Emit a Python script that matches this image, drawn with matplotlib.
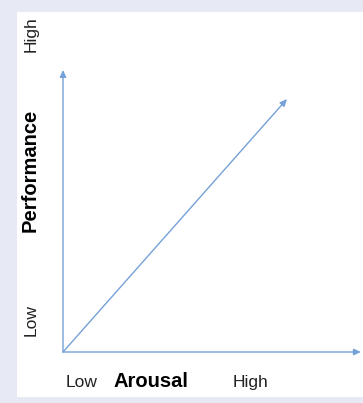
import matplotlib
matplotlib.use("Agg")
import matplotlib.pyplot as plt
from matplotlib.patches import Rectangle

# Data (normalised arousal -> performance)
arousal = [0.0, 1.0]
performance = [0.0, 1.0]
x_axis_end = 1.33
y_axis_end = 1.115
x_labels = ["Low", "Arousal", "High"]
y_labels = ["Low", "Performance", "High"]

W, H = 363, 403
fig = plt.figure(figsize=(W / 100, H / 100), dpi=100)
fig.patch.set_facecolor("#e7e9f5")
bg = fig.add_axes([0, 0, 1, 1], zorder=-10)
bg.set_xlim(0, W)
bg.set_ylim(H, 0)
bg.axis("off")
bg.add_patch(Rectangle((17, 12), W - 17, 397 - 12, facecolor="white", edgecolor="none"))

ax = fig.add_axes([63 / W, 1 - 352 / H, 224 / W, 253 / H], zorder=1)
ax.set_xlim(0, 1)
ax.set_ylim(0, 1)
ax.axis("off")
ax.patch.set_alpha(0)

col = "#75a1d8"
ap = dict(arrowstyle="-|>,head_length=0.55,head_width=0.25", color=col,
          lw=1.0, shrinkA=0, shrinkB=0, mutation_scale=7.5)
ax.annotate("", xy=(x_axis_end, 0), xytext=(0, 0), arrowprops=ap, annotation_clip=False)
ax.annotate("", xy=(0, y_axis_end), xytext=(0, 0), arrowprops=ap, annotation_clip=False)
ax.annotate("", xy=(arousal[1], performance[1]), xytext=(arousal[0], performance[0]),
            arrowprops=ap, annotation_clip=False)

fam = "Liberation Sans"
def ft(x, y, s, va="center", **kw):
    fig.text(x / W, 1 - y / H, s, family=fam, ha="center", va=va, **kw)

ft(82, 387, x_labels[0], va="baseline", fontsize=12.5, color="#222222")
ft(151, 387, x_labels[1], va="baseline", fontsize=14.5, fontweight="bold")
ft(250, 387, x_labels[2], va="baseline", fontsize=12.5, color="#222222")
ft(31, 320, y_labels[0], fontsize=12.5, rotation=90, color="#222222")
ft(30, 170, y_labels[1], fontsize=14.5, fontweight="bold", rotation=90)
ft(31, 34, y_labels[2], fontsize=12.5, rotation=90, color="#222222")

fig.savefig("out.png", dpi=100, facecolor=fig.get_facecolor())
